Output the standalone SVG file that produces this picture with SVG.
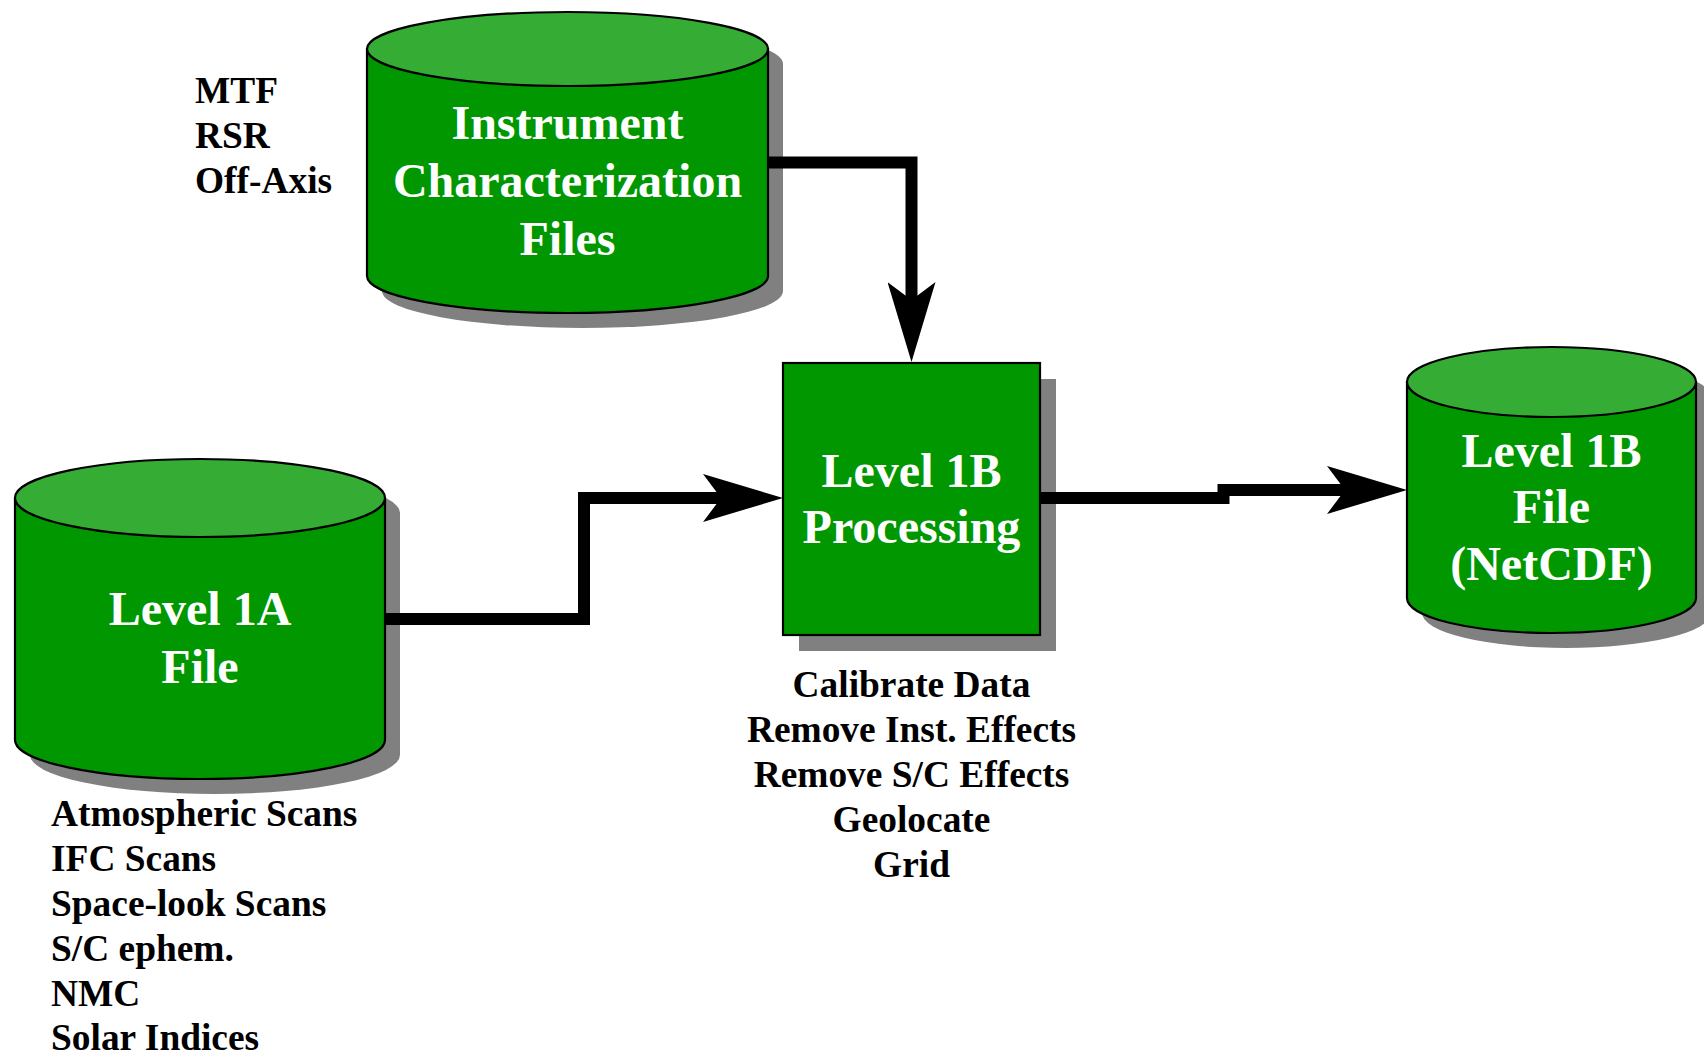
<svg xmlns="http://www.w3.org/2000/svg" width="1704" height="1055" viewBox="0 0 1704 1055">
  <style>
    .shadow { fill: #808080; stroke: none; }
    .body { fill: #009700; stroke: #000; stroke-width: 2.2; }
    .top { fill: #35ad35; stroke: #000; stroke-width: 2.2; }
    .title { font-family: "Liberation Serif", "Times New Roman", serif; font-weight: bold; font-size: 48px; fill: #fff; text-anchor: middle; }
    .note { font-family: "Liberation Serif", "Times New Roman", serif; font-weight: bold; font-size: 37.4px; fill: #000; }
    .flow { fill: none; stroke: #000; stroke-width: 12; stroke-linejoin: miter; stroke-linecap: butt; marker-end: url(#head); }
  </style>
  <defs>
    <marker id="head" markerUnits="userSpaceOnUse" markerWidth="80" markerHeight="48" viewBox="0 0 80 48" refX="18" refY="24" orient="auto">
      <path d="M0,0 L80,24 L0,48 L18,24 Z" fill="#000"/>
    </marker>
  </defs>
  <rect width="1704" height="1055" fill="#fff"/>

  <!-- Instrument Characterization Files store -->
  <g id="instrument-files">
    <path class="shadow" d="M382,64 A200.5,37 0 0 1 783,64 L783,291 A200.5,37 0 0 1 382,291 Z"/>
    <path class="body" d="M367,49 L367,276 A200.5,37 0 0 0 768,276 L768,49 Z"/>
    <ellipse class="top" cx="567.5" cy="49" rx="200.5" ry="37"/>
    <text class="title" x="567.5" y="139">Instrument</text>
    <text class="title" x="567.5" y="197">Characterization</text>
    <text class="title" x="567.5" y="255">Files</text>
  </g>

  <!-- Level 1A input file -->
  <g id="level1a-file">
    <path class="shadow" d="M30,513 A185,39 0 0 1 400,513 L400,755 A185,39 0 0 1 30,755 Z"/>
    <path class="body" d="M15,498 L15,740 A185,39 0 0 0 385,740 L385,498 Z"/>
    <ellipse class="top" cx="200" cy="498" rx="185" ry="39"/>
    <text class="title" x="200" y="625">Level 1A</text>
    <text class="title" x="200" y="683">File</text>
  </g>

  <!-- Level 1B processing step -->
  <g id="level1b-processing">
    <rect class="shadow" x="799" y="379" width="257" height="272"/>
    <rect class="body" x="783" y="363" width="257" height="272"/>
    <text class="title" x="911.5" y="487">Level 1B</text>
    <text class="title" x="911.5" y="543">Processing</text>
  </g>

  <!-- Level 1B output file -->
  <g id="level1b-file">
    <path class="shadow" d="M1422,397 A144.5,35 0 0 1 1711,397 L1711,613 A144.5,35 0 0 1 1422,613 Z"/>
    <path class="body" d="M1407,382 L1407,598 A144.5,35 0 0 0 1696,598 L1696,382 Z"/>
    <ellipse class="top" cx="1551.5" cy="382" rx="144.5" ry="35"/>
    <text class="title" x="1551.5" y="467">Level 1B</text>
    <text class="title" x="1551.5" y="523">File</text>
    <text class="title" x="1551.5" y="580">(NetCDF)</text>
  </g>

  <!-- data flow connectors -->
  <g id="connectors">
    <path class="flow" d="M768,162.5 L911.5,162.5 L911.5,300"/>
    <path class="flow" d="M385,619 L584,619 L584,498 L721,498"/>
    <path class="flow" d="M1040,498 L1223.5,498 L1223.5,490 L1345,490"/>
  </g>

  <!-- annotations -->
  <g id="instrument-notes">
    <text class="note" x="195" y="103">MTF</text>
    <text class="note" x="195" y="148">RSR</text>
    <text class="note" x="195" y="193">Off-Axis</text>
  </g>
  <g id="level1a-notes">
    <text class="note" x="51" y="826">Atmospheric Scans</text>
    <text class="note" x="51" y="871">IFC Scans</text>
    <text class="note" x="51" y="916">Space-look Scans</text>
    <text class="note" x="51" y="961">S/C ephem.</text>
    <text class="note" x="51" y="1006">NMC</text>
    <text class="note" x="51" y="1050">Solar Indices</text>
  </g>
  <g id="processing-notes" text-anchor="middle">
    <text class="note" x="911.5" y="697">Calibrate Data</text>
    <text class="note" x="911.5" y="742">Remove Inst. Effects</text>
    <text class="note" x="911.5" y="787">Remove S/C Effects</text>
    <text class="note" x="911.5" y="832">Geolocate</text>
    <text class="note" x="911.5" y="877">Grid</text>
  </g>
</svg>
